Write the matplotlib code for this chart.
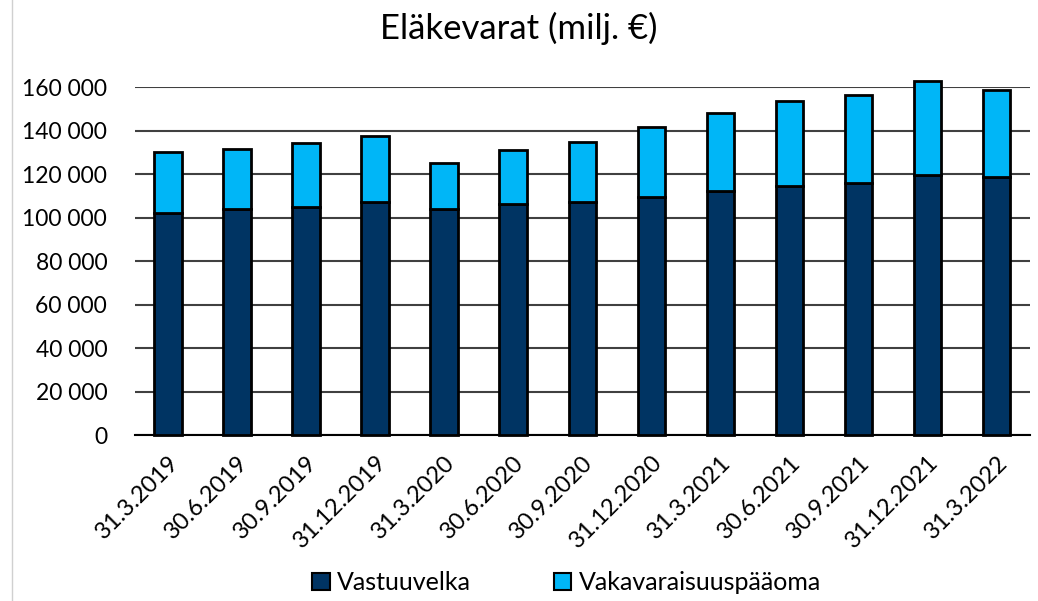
# Eläkevarat pinottuina pylväinä
import numpy as np
import matplotlib.pyplot as plt
from matplotlib.lines import Line2D
from matplotlib.patches import Patch

plt.rcParams['font.family'] = ['Lato', 'DejaVu Sans']

# Data (milj. €)
paivat = ['31.3.2019', '30.6.2019', '30.9.2019', '31.12.2019', '31.3.2020',
          '30.6.2020', '30.9.2020', '31.12.2020', '31.3.2021', '30.6.2021',
          '30.9.2021', '31.12.2021', '31.3.2022']
vastuuvelka = [102200, 103800, 104700, 107100, 103800, 106200, 107100,
               109300, 112300, 114600, 115900, 119400, 118900]
yhteensa = [130100, 131600, 134100, 137500, 125200, 131000, 134700,
            141500, 148200, 153400, 156500, 162800, 158600]
vakavaraisuus = [t - v for t, v in zip(yhteensa, vastuuvelka)]
y_ticks = [0, 20000, 40000, 60000, 80000, 100000, 120000, 140000, 160000]

tumma = '#003463'
vaalea = '#00B6F7'

fig = plt.figure(figsize=(10.38, 6.01), dpi=100)
ax = fig.add_axes([0.130, 0.276, 0.862, 0.579])

x = np.arange(len(paivat))
b1 = ax.bar(x, vastuuvelka, width=0.4, color=tumma, edgecolor='black',
            linewidth=2, zorder=3)
b2 = ax.bar(x, vakavaraisuus, width=0.4, bottom=vastuuvelka, color=vaalea,
            edgecolor='black', linewidth=2, zorder=3)
for p in list(b1) + list(b2):
    p.set_clip_on(False)

ax.set_xlim(-0.48, 12.48)
ax.set_ylim(0, 160000)
ax.set_yticks(y_ticks)
ax.set_yticklabels([f'{v:,}'.replace(',', ' ') for v in y_ticks], fontsize=16.5)
ax.yaxis.grid(True, color='#404040', linewidth=1.5, zorder=0)
ax.set_axisbelow(True)

ax.set_xticks(x)
ax.set_xticklabels(paivat, rotation=45, ha='right', va='top',
                   rotation_mode='anchor', fontsize=17)
ax.tick_params(axis='y', length=0, pad=20)
ax.tick_params(axis='x', length=0, pad=12)

for s in ['top', 'right', 'left']:
    ax.spines[s].set_visible(False)
ax.spines['bottom'].set_color('black')
ax.spines['bottom'].set_linewidth(1.5)

fig.suptitle('Eläkevarat (milj. €)', fontsize=25, y=0.98)

kahvat = [Patch(facecolor=tumma, edgecolor='black', linewidth=1.5),
          Patch(facecolor=vaalea, edgecolor='black', linewidth=1.5)]
fig.legend(kahvat, ['Vastuuvelka', 'Vakavaraisuuspääoma'], loc='center',
           bbox_to_anchor=(0.546, 0.03), ncol=2, frameon=False, fontsize=18,
           handlelength=0.7, handleheight=0.7, handletextpad=0.3,
           columnspacing=3.3)

# kaavion reunaviiva vasemmalla
fig.add_artist(Line2D([12 / 1038, 12 / 1038], [0, 1], color='#D0D0D0',
                      linewidth=1))

fig.savefig('out.png', dpi=100)
